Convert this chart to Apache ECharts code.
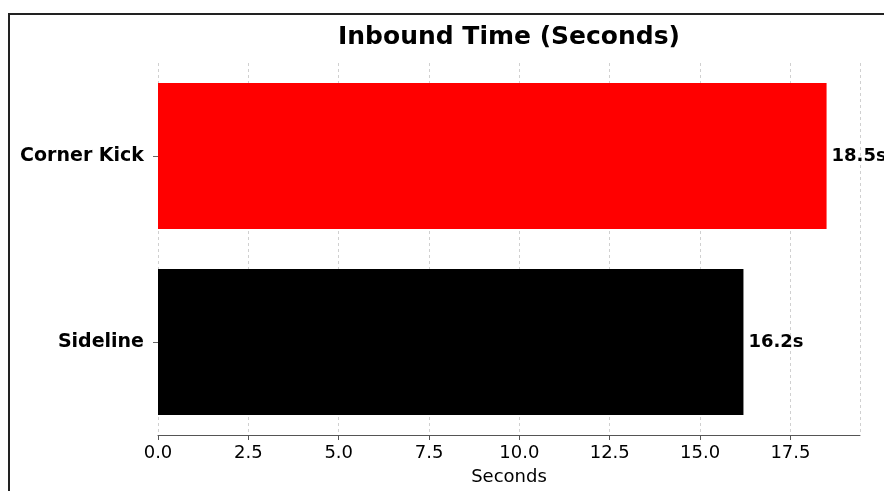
<!DOCTYPE html>
<html><head><meta charset="utf-8">
<script src="https://cdn.jsdelivr.net/npm/echarts@6/dist/echarts.min.js"></script>
<style>html,body{margin:0;padding:0;background:#fff}#c{width:884px;height:491px}</style>
</head><body><div id="c"></div>
<script>
const categories = ['Sideline', 'Corner Kick'];
const values = [16.2, 18.5];
const barColors = ['#000000', '#ff0000'];
const xTicks = [0, 2.5, 5, 7.5, 10, 12.5, 15, 17.5];
const titleText = 'Inbound Time (Seconds)';
const xAxisName = 'Seconds';

const chart = echarts.init(document.getElementById('c'), null, {renderer: 'canvas'});
const font = 'DejaVu Sans';
chart.setOption({
  animation: false,
  backgroundColor: '#fff',
  title: {
    text: titleText, left: 504, top: 20, textAlign: 'center',
    textStyle: {fontFamily: font, fontWeight: 'bold', fontSize: 25, color: '#000'}
  },
  grid: {left: 158, right: 24, top: 63, bottom: 56, containLabel: false},
  xAxis: {
    type: 'value', min: 0, max: 19.425, interval: 2.5,
    name: xAxisName, nameLocation: 'middle', nameGap: 33,
    nameTextStyle: {fontFamily: font, fontSize: 18, color: '#000'},
    axisLine: {show: true, lineStyle: {color: '#555', width: 1}},
    axisTick: {show: true, length: 5, lineStyle: {color: '#555'}},
    axisLabel: {
      fontFamily: font, fontSize: 18, color: '#000', margin: 9,
      showMaxLabel: false,
      formatter: v => xTicks.includes(v) ? v.toFixed(1) : ''
    },
    splitLine: {show: true, lineStyle: {color: '#d0d0d0', type: [3, 3], width: 1}}
  },
  yAxis: {
    type: 'category', data: categories,
    axisLine: {show: false},
    axisTick: {show: true, alignWithLabel: true, length: 5, lineStyle: {color: '#666'}},
    axisLabel: {fontFamily: font, fontSize: 19, fontWeight: 'bold', color: '#000', margin: 14}
  },
  series: [{
    type: 'bar', barWidth: 146,
    data: values.map((v, i) => ({value: v, itemStyle: {color: barColors[i]}})),
    label: {
      show: true, position: 'right', distance: 5,
      formatter: p => p.value.toFixed(1) + 's',
      fontFamily: font, fontWeight: 'bold', fontSize: 18, color: '#000'
    }
  }],
  graphic: [{
    type: 'rect', shape: {x: 9, y: 14, width: 1000, height: 600},
    style: {fill: null, stroke: '#222', lineWidth: 2}, silent: true, z: 100
  }]
});
</script></body></html>
